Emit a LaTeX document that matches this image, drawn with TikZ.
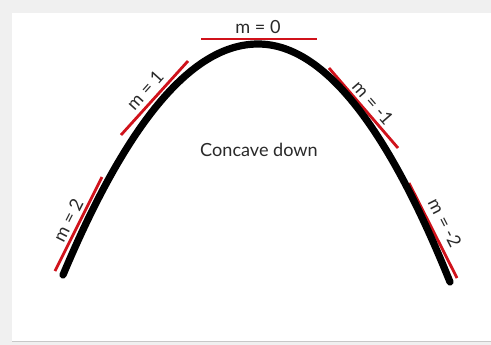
\documentclass[tikz,border=0pt]{standalone}
\usepackage{fontspec}
\setmainfont{Lato}
\usepackage{tikz}
\definecolor{ink}{HTML}{2A2A2A}
\definecolor{tanred}{HTML}{D0121B}
\definecolor{frame}{HTML}{F0F0F0}
\definecolor{edge}{HTML}{C8C8C8}
\tikzset{
  curve/.style={line width=4.1pt,line cap=round,color=black},
  tangent/.style={line width=1.6pt,color=tanred},
  slopelabel/.style={font=\fontsize{10.3}{12}\selectfont,text=ink,inner sep=1pt},
}

\begin{document}
\begin{tikzpicture}[x=0.02cm,y=-0.02cm]
  \useasboundingbox (0,0) rectangle (491,345);
  \fill[frame] (0,0) rectangle (491,345);
  \fill[white] (12,13) rectangle (491,341);
  \draw[edge,line width=.6pt] (12,341.5) -- (491,341.5);

  % tangent lines
  \draw[tangent] (201,39) -- (317,39);
  \draw[tangent] (121,135) -- (188,61);
  \draw[tangent] (55,271) -- (102,177);
  \draw[tangent] (329,68) -- (398,148);
  \draw[tangent] (409,183) -- (457,278);

  % the curve, two parabola halves
  \draw[curve] (63,275) .. controls (128,120) and (193,44) .. (258,44)
    .. controls (322,44) and (386,123) .. (450,282);

  \node[slopelabel] (m0) at (258,27) {m = 0};
  \node[slopelabel,rotate=48] (m1) at (145,90) {m = 1};
  \node[slopelabel,rotate=63] (m2) at (68,220) {m = 2};
  \node[slopelabel,rotate=-49] (mneg1) at (373,103) {m = -1};
  \node[slopelabel,rotate=-63] (mneg2) at (445,223) {m = -2};

  \node[slopelabel] (title) at (259,150) {Concave down};
\end{tikzpicture}
\end{document}
